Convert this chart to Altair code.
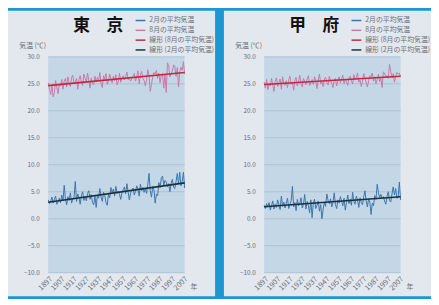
import altair as alt
import pandas as pd

FONT = "Noto Sans CJK JP"

years = list(range(1897, 2009))
tick_years = [1897, 1907, 1917, 1927, 1937, 1947, 1957, 1967, 1977, 1987, 1997, 2007]
y_ticks = [-10, -5, 0, 5, 10, 15, 20, 25, 30]

tokyo_feb = [
    3.5, 2.8, 3.2, 4.0, 2.9, 3.6, 4.2, 2.7, 3.1, 3.8,
    3.0, 4.4, 3.3, 6.2, 3.6, 2.6, 4.1, 3.4, 4.8, 2.9,
    3.7, 4.0, 6.9, 3.2, 4.6, 3.9, 2.7, 4.3, 5.0, 3.4,
    4.1, 3.3, 4.7, 5.2, 3.6, 4.5, 3.0, 2.6, 4.2, 2.1,
    4.4, 3.8, 5.6, 4.0, 3.2, 4.9, 4.3, 3.0, 2.5, 4.6,
    3.9, 5.8, 4.8, 5.5, 4.2, 6.0, 4.7, 5.1, 4.5, 3.6,
    4.9, 5.4, 5.9, 4.6, 6.5, 5.0, 3.5, 4.8, 5.3, 5.7,
    4.4, 5.1, 6.1, 5.5, 4.2, 6.4, 5.2, 5.8, 4.9, 5.6,
    4.7, 6.3, 8.4, 5.2, 4.0, 6.0, 5.4, 2.9, 4.6, 4.3,
    6.7, 5.8, 7.6, 7.9, 6.2, 7.1, 6.8, 5.9, 6.5, 5.0,
    6.6, 7.3, 5.8, 5.6, 6.9, 8.4, 6.5, 8.6, 6.1, 6.9,
    8.6, 5.7,
]
tokyo_aug = [
    25.2, 24.0, 23.0, 24.8, 22.6, 23.5, 25.6, 24.3, 23.2, 25.0,
    24.6, 25.8, 24.0, 25.5, 26.0, 24.4, 26.3, 25.1, 24.5, 26.2,
    26.6, 25.0, 25.4, 26.0, 24.0, 25.8, 26.5, 25.2, 24.7, 26.8,
    26.0, 25.3, 27.0, 25.6, 24.2, 26.1, 25.0, 24.8, 26.4, 25.4,
    26.2, 25.6, 27.1, 25.0, 24.3, 26.5, 25.8, 26.9, 24.9, 25.5,
    26.8, 25.9, 25.2, 26.4, 25.6, 26.7, 24.8, 25.4, 27.0, 25.3,
    26.1, 26.5, 25.7, 26.3, 27.2, 25.8, 26.0, 25.5, 25.9, 26.4,
    26.9, 25.5, 26.2, 27.4, 25.0, 26.6, 27.3, 26.0, 25.6, 24.6,
    25.8, 27.6, 26.5, 23.6, 24.9, 26.2, 27.1, 26.8, 27.5, 26.0,
    27.0, 25.2, 26.6, 26.9, 24.2, 26.8, 23.4, 28.9, 28.4, 26.3,
    26.9, 27.3, 28.5, 28.3, 26.4, 28.0, 24.4, 27.2, 28.1, 27.5,
    29.1, 26.8,
]
kofu_feb = [
    2.5, 1.9, 2.8, 2.2, 3.0, 1.6, 2.4, 3.3, 1.8, 2.7,
    2.1, 3.5, 2.6, 1.7, 4.2, 2.3, 3.1, 2.0, 2.9, 3.8,
    1.9, 2.6, 3.4, 6.0, 2.2, 3.0, 1.5, 3.6, 2.4, 2.8,
    3.9, 2.0, 2.7, 4.5, 1.8, 3.2, 2.4, 1.1, 3.5, 0.2,
    2.9, 3.6, 1.9, 2.5, 3.3, 1.4, 2.6, 0.0, 1.8, 3.1,
    2.3, 4.6, 3.4, 2.8, 3.7, 2.2, 3.0, 4.8, 2.6, 1.9,
    3.5, 2.9, 4.1, 3.3, 2.4, 3.8, 1.6, 3.0, 4.4, 2.8,
    3.6, 2.5, 4.9, 3.2, 2.7, 4.2, 3.5, 2.1, 3.9, 3.0,
    2.6, 4.0, 5.2, 3.4, 2.2, 3.7, 3.1, 0.8, 2.9, 2.4,
    4.3, 3.6, 6.4, 4.8, 3.9, 4.5, 3.7, 4.1, 3.3, 2.7,
    4.2, 5.0, 3.4, 3.1, 4.6, 5.9, 4.4, 5.6, 3.8, 4.0,
    6.8, 3.5,
]
kofu_aug = [
    25.3, 24.2, 25.8, 23.9, 25.0, 24.6, 26.0, 24.8, 23.6, 25.5,
    26.1, 24.5, 25.2, 25.9, 24.0, 26.3, 25.0, 24.7, 25.6, 24.3,
    25.8, 26.4, 24.9, 25.3, 23.8, 25.7, 26.2, 24.6, 25.4, 26.6,
    25.1, 24.4, 26.0, 25.5, 24.8, 25.9, 26.5, 24.7, 25.2, 25.8,
    24.9, 26.3, 25.6, 24.1, 25.7, 26.8, 25.0, 25.4, 24.5, 25.9,
    26.2, 25.3, 24.8, 26.4, 25.5, 25.1, 24.3, 25.7, 26.0, 24.6,
    25.6, 26.3, 25.2, 25.9, 26.6, 25.0, 25.8, 25.4, 24.7, 26.1,
    26.4, 25.5, 25.0, 26.7, 25.8, 26.2, 27.0, 25.3, 25.7, 24.5,
    25.4, 26.9, 26.1, 25.2, 24.4, 25.6, 26.5, 26.3, 27.0, 25.5,
    26.3, 25.0, 25.8, 26.8, 25.4, 26.0, 24.3, 27.2, 27.0, 26.2,
    26.5, 26.0, 28.6, 27.3, 26.1, 26.9, 25.3, 26.4, 27.1, 26.8,
    27.0, 26.3,
]

S_FEB = "2月の平均気温"
S_AUG = "8月の平均気温"
T_AUG = "線形 (8月の平均気温)"
T_FEB = "線形 (2月の平均気温)"

BLUE = "#1b97d3"
PANEL = "#e3e7ee"
PLOT = "#c4d7e6"
GRID = "#a7bccd"
TXT = "#6a6f78"

W, H = 139, 220


def panel(name, feb, aug, right_ext):
    n = len(years)
    df = pd.DataFrame({
        "year": years + years,
        "temp": feb + aug,
        "series": [S_FEB] * n + [S_AUG] * n,
    })
    one = alt.Data(values=[{"k": 1}])
    xs = alt.Scale(domain=[1897, 2008], nice=False, zero=False)
    ys = alt.Scale(domain=[-10, 30], nice=False, zero=False)
    cs = alt.Scale(domain=[S_FEB, S_AUG, T_AUG, T_FEB],
                   range=["#3b74ad", "#c77aa8", "#c0283c", "#1d3036"])
    xaxis = alt.Axis(values=tick_years, format="d", labelAngle=-45, labelFontSize=7.5,
                     labelColor=TXT, labelFont=FONT, labelPadding=2, labelFlush=False,
                     labelOverlap=False, domain=False, ticks=False, grid=False,
                     title="年", titleAngle=0, titleX=148, titleY=14, titleFontSize=7,
                     titleFontWeight="normal", titleColor=TXT, titleFont=FONT,
                     titleAlign="center", titleBaseline="middle", zindex=1)
    yaxis = alt.Axis(values=y_ticks, format=".1f", labelFontSize=6.5, labelColor=TXT,
                     labelFont=FONT, labelPadding=9, domain=False, ticks=False, grid=False,
                     title="気温 (℃)", titleAngle=0, titleX=-30, titleY=-11,
                     titleAlign="left", titleBaseline="middle", titleFontSize=7,
                     titleFontWeight="normal", titleColor=TXT, titleFont=FONT, zindex=1)
    legend = alt.Legend(orient="none", legendX=88, legendY=-43, symbolType="stroke",
                        symbolSize=100, symbolStrokeWidth=1.5, labelFontSize=7,
                        labelFont=FONT, labelColor=TXT, rowPadding=1, labelOffset=3,
                        padding=0)

    bg = alt.Chart(one).mark_rect(color=PANEL).encode(
        x=alt.value(-41), x2=alt.value(W + right_ext), y=alt.value(-47), y2=alt.value(H + 24))
    plotbg = alt.Chart(one).mark_rect(color=PLOT).encode(
        x=alt.value(0), x2=alt.value(W), y=alt.value(0), y2=alt.value(H))
    grid = alt.Chart(pd.DataFrame({"v": y_ticks})).mark_rule(color=GRID, strokeWidth=0.8).encode(
        y=alt.Y("v:Q", scale=ys, axis=yaxis), x=alt.value(0), x2=alt.value(W))
    lines = alt.Chart(df).mark_line(strokeWidth=1).encode(
        x=alt.X("year:Q", scale=xs, axis=xaxis),
        y=alt.Y("temp:Q", scale=ys, axis=yaxis),
        color=alt.Color("series:N", scale=cs, legend=legend, title=None),
    )
    trend = alt.Chart(df).transform_regression(
        "year", "temp", groupby=["series"]
    ).transform_calculate(
        series='"線形 (" + datum.series + ")"'
    ).mark_line(strokeWidth=1.6).encode(
        x=alt.X("year:Q", scale=xs, axis=xaxis),
        y=alt.Y("temp:Q", scale=ys, axis=yaxis),
        color=alt.Color("series:N", scale=cs, legend=legend, title=None),
    )
    title = alt.Chart(one).mark_text(text=name, font=FONT, fontSize=17, fontWeight="bold",
                                     color="#111111", align="center", baseline="middle").encode(
        x=alt.value(51), y=alt.value(-31))
    return alt.layer(bg, plotbg, grid, lines, trend, title).properties(width=W, height=H)


left = panel("東　京", tokyo_feb, tokyo_aug, 31)
right = panel("甲　府", kofu_feb, kofu_aug, 31)

chart = alt.hconcat(left, right, spacing=9).resolve_scale(
    color="independent", x="independent", y="independent"
).resolve_legend(color="independent").configure(
    background=BLUE, padding=0
).configure_view(stroke=None)

chart.save("out.html", embed_options={"renderer": "svg", "actions": False})
